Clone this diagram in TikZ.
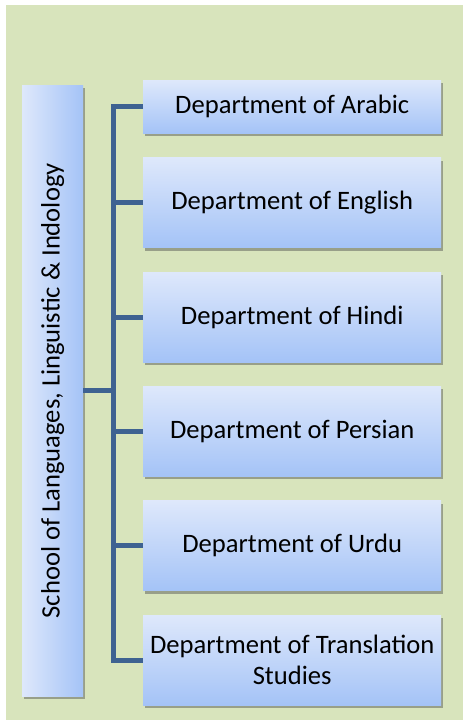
\documentclass[tikz,border=0pt]{standalone}
\usepackage{fontspec}
\setmainfont{Carlito}
\usetikzlibrary{positioning}
\usetikzlibrary{shadows}
\definecolor{panelgreen}{RGB}{216,228,188}
\definecolor{boxtop}{RGB}{222,232,251}
\definecolor{boxbot}{RGB}{164,195,247}
\definecolor{linkblue}{RGB}{62,98,145}

\begin{document}
\begin{tikzpicture}[x=1pt,y=-1pt,node distance=24pt,
                    every node/.style=  {font=\fontsize{26.6}{31}\selectfont},
                    dept/.style=        {minimum width=298pt,minimum height=90pt,inner sep=0pt,align=center,
                                         top color=boxtop,bottom color=boxbot,
                                         drop shadow={shadow xshift=1.5pt,shadow yshift=-3pt,fill=black!70,opacity=.45}},
                    school box/.style=  {minimum width=61pt,minimum height=611pt,inner sep=0pt,
                                         left color=boxtop,right color=boxbot,
                                         drop shadow={shadow xshift=1.5pt,shadow yshift=-3pt,fill=black!70,opacity=.45}},
                    branch/.style=      {draw=linkblue,line width=5pt,line join=miter}]
      \fill[panelgreen] (6,5) rectangle (463,720);
      \useasboundingbox (0,0) rectangle (463,722);
      % departments
      \node[dept, minimum height=53pt, anchor=north west] (arabic) at (143,80) {Department of Arabic};
      \node[dept, below=of arabic] (english) {Department of English};
      \node[dept, below=of english] (hindi) {Department of Hindi};
      \node[dept, below=of hindi] (persian) {Department of Persian};
      \node[dept, below=of persian] (urdu) {Department of Urdu};
      \node[dept, below=of urdu] (transl) {Department of Translation\\Studies};
      % school
      \node[school box, anchor=north west] (school) at (22,85) {\rotatebox{90}{School of Languages, Linguistic \& Indology}};
      % connectors
      \coordinate (trunk) at (113,0);
      \draw[branch] (arabic.west) -- (arabic.west -| trunk) -- (transl.west -| trunk) -- (transl.west);
      \foreach \d in {english,hindi,persian,urdu}
        \draw[branch] (\d.west) -- (\d.west -| trunk);
      \draw[branch] (school.east) -- (school.east -| trunk);
\end{tikzpicture}
\end{document}
